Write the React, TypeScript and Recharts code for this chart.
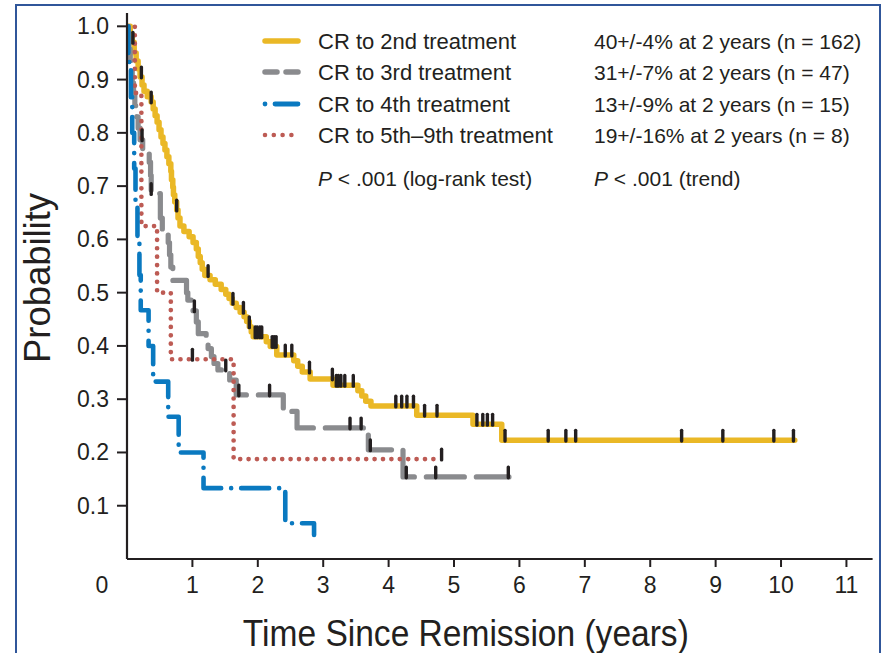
import React from 'react';
import { ComposedChart, Line, Scatter, XAxis, YAxis, Legend } from 'recharts';

const INK = '#231f20';
const FONT = '"Liberation Sans", Arial, Helvetica, sans-serif';

// Kaplan–Meier estimates: step times (years) and survival after each step
const cr2Times = [0, 0.05, 0.08, 0.11, 0.14, 0.17, 0.2, 0.23, 0.26, 0.31, 0.37, 0.4, 0.43, 0.46, 0.49, 0.52, 0.55, 0.58, 0.61, 0.64, 0.67, 0.68, 0.7, 0.71, 0.73, 0.76, 0.78, 0.81, 0.87, 0.95, 1.01, 1.06, 1.09, 1.12, 1.15, 1.19, 1.27, 1.35, 1.44, 1.51, 1.56, 1.61, 1.67, 1.73, 1.79, 1.83, 1.87, 1.9, 1.93, 2.13, 2.19, 2.29, 2.55, 2.61, 2.68, 2.8, 3.15, 3.53, 3.59, 3.65, 3.73, 4.43, 5.29, 5.73, 10.21];
const cr2Surv = [1.0, 0.985, 0.97, 0.95, 0.935, 0.92, 0.905, 0.89, 0.878, 0.868, 0.858, 0.845, 0.832, 0.82, 0.806, 0.792, 0.78, 0.768, 0.755, 0.742, 0.728, 0.712, 0.698, 0.684, 0.67, 0.655, 0.64, 0.625, 0.615, 0.605, 0.594, 0.582, 0.568, 0.556, 0.544, 0.532, 0.524, 0.516, 0.506, 0.497, 0.489, 0.48, 0.472, 0.463, 0.455, 0.446, 0.436, 0.426, 0.417, 0.408, 0.399, 0.383, 0.372, 0.362, 0.351, 0.338, 0.326, 0.316, 0.306, 0.296, 0.287, 0.27, 0.253, 0.223, 0.223];
const cr2Censored = [0.09, 0.22, 0.37, 0.76, 1.24, 1.62, 1.78, 1.87, 1.96, 1.99, 2.03, 2.06, 2.22, 2.25, 2.28, 2.42, 2.52, 2.79, 3.14, 3.2, 3.23, 3.27, 3.33, 3.46, 4.11, 4.2, 4.28, 4.38, 4.55, 4.74, 5.35, 5.44, 5.51, 5.59, 5.78, 6.44, 6.71, 6.86, 8.48, 9.11, 9.89, 10.19];

const cr3Times = [0, 0.02, 0.03, 0.05, 0.06, 0.08, 0.1, 0.12, 0.15, 0.17, 0.2, 0.24, 0.34, 0.36, 0.37, 0.51, 0.54, 0.63, 0.65, 0.67, 0.7, 0.91, 0.93, 1.01, 1.06, 1.09, 1.21, 1.24, 1.29, 1.33, 1.39, 1.57, 1.67, 2.39, 2.6, 3.69, 4.22, 5.84];
const cr3Surv = [1.0, 0.979, 0.957, 0.936, 0.915, 0.894, 0.872, 0.851, 0.83, 0.809, 0.787, 0.766, 0.745, 0.72, 0.686, 0.64, 0.617, 0.594, 0.571, 0.548, 0.523, 0.5, 0.486, 0.466, 0.445, 0.423, 0.41, 0.395, 0.38, 0.367, 0.355, 0.336, 0.308, 0.277, 0.246, 0.205, 0.154, 0.154];
const cr3Censored = [0.23, 0.37, 1.03, 1.51, 1.71, 2.18, 3.41, 3.58, 3.72, 4.27, 4.72, 5.83];

const cr4Times = [0, 0.02, 0.06, 0.08, 0.11, 0.13, 0.16, 0.19, 0.21, 0.33, 0.4, 0.63, 0.79, 1.17, 2.42, 2.86];
const cr4Surv = [1.0, 0.933, 0.867, 0.8, 0.733, 0.667, 0.6, 0.533, 0.467, 0.4, 0.333, 0.267, 0.2, 0.133, 0.067, 0.045];

const cr5Times = [0, 0.12, 0.22, 0.46, 0.67, 1.63, 4.81];
const cr5Surv = [1.0, 0.875, 0.625, 0.5, 0.375, 0.1875, 0.1875];
const cr5Censored = [1.0, 4.81];

const xTicks = [0, 1, 2, 3, 4, 5, 6, 7, 8, 9, 10, 11];
const yTicks = [0.1, 0.2, 0.3, 0.4, 0.5, 0.6, 0.7, 0.8, 0.9, 1.0];

const seriesNames = ['CR to 2nd treatment', 'CR to 3rd treatment', 'CR to 4th treatment', 'CR to 5th\u20139th treatment'];
const seriesStats = ['40+/-4% at 2 years (n = 162)', '31+/-7% at 2 years (n = 47)', '13+/-9% at 2 years (n = 15)', '19+/-16% at 2 years (n = 8)'];
const seriesColors = ['#eab826', '#8a8b8e', '#0a79c0', '#bd5b54'];

type Pt = { t: number; p: number };

const toSteps = (times: number[], surv: number[]): Pt[] => times.map((t, i) => ({ t, p: surv[i] }));
const survAt = (steps: Pt[], t: number) => {
  let p = steps[0].p;
  for (const s of steps) if (s.t <= t) p = s.p;
  return p;
};
const toCensor = (steps: Pt[], times: number[]): Pt[] => times.map((t) => ({ t, p: survAt(steps, t) }));

const cr2 = toSteps(cr2Times, cr2Surv);
const cr3 = toSteps(cr3Times, cr3Surv);
const cr4 = toSteps(cr4Times, cr4Surv);
const cr5 = toSteps(cr5Times, cr5Surv);

const cr2Marks = toCensor(cr2, cr2Censored);
const cr3Marks = toCensor(cr3, cr3Censored);
const cr5Marks = toCensor(cr5, cr5Censored);

const CensorMark = (props: any) => {
  const { cx, cy } = props;
  if (cx == null || cy == null) return null;
  return <rect x={cx - 1.7} y={cy - 11.5} width={3.4} height={14} rx={1.6} fill={INK} />;
};

const XTick = (props: any) => {
  const { x, y, payload } = props;
  const v = payload.value as number;
  const common = { fontSize: 23, fontFamily: FONT, fill: INK, textAnchor: 'middle' as const };
  if (v === 0) {
    return (
      <text x={x - 25} y={y + 34} {...common}>
        0
      </text>
    );
  }
  return (
    <g>
      <line x1={x} y1={y} x2={x} y2={y + 8} stroke={INK} strokeWidth={2} />
      <text x={x} y={y + 34} {...common}>
        {v}
      </text>
    </g>
  );
};

const YTick = (props: any) => {
  const { x, y, payload } = props;
  return (
    <g>
      <line x1={x - 10} y1={y} x2={x} y2={y} stroke={INK} strokeWidth={2} />
      <text x={x - 18} y={y + 8} textAnchor="end" fontSize={23} fontFamily={FONT} fill={INK}>
        {(payload.value as number).toFixed(1)}
      </text>
    </g>
  );
};

const XTitle = (props: any) => {
  const vb = props.viewBox ?? { x: 127, y: 559, width: 746 };
  return (
    <text
      x={vb.x + vb.width / 2 - 34}
      y={vb.y + 87}
      textAnchor="middle"
      fontSize={37}
      fontFamily={FONT}
      fill={INK}
      textLength={446}
      lengthAdjust="spacingAndGlyphs"
    >
      Time Since Remission (years)
    </text>
  );
};

const YTitle = (props: any) => {
  const vb = props.viewBox ?? { x: 67, y: 13, width: 60, height: 546 };
  const cx = vb.x - 17;
  const cy = vb.y + 265;
  return (
    <text
      x={cx}
      y={cy}
      transform={`rotate(-90, ${cx}, ${cy})`}
      textAnchor="middle"
      fontSize={36}
      fontFamily={FONT}
      fill={INK}
      textLength={170}
      lengthAdjust="spacingAndGlyphs"
    >
      Probability
    </text>
  );
};

const rowY = [41, 72, 104, 135];

const LegendPanel = () => (
  <svg width={885} height={200} style={{ display: 'block', overflow: 'visible' }}>
    <line x1={265} y1={rowY[0]} x2={298} y2={rowY[0]} stroke={seriesColors[0]} strokeWidth={5.5} strokeLinecap="round" />
    <line x1={265} y1={rowY[1]} x2={298} y2={rowY[1]} stroke={seriesColors[1]} strokeWidth={5.5} strokeLinecap="round" strokeDasharray="12 9" />
    <circle cx={265} cy={rowY[2]} r={2.4} fill={seriesColors[2]} />
    <line x1={275} y1={rowY[2]} x2={298} y2={rowY[2]} stroke={seriesColors[2]} strokeWidth={4.8} strokeLinecap="round" />
    <line x1={265} y1={rowY[3]} x2={292} y2={rowY[3]} stroke={seriesColors[3]} strokeWidth={4.6} strokeLinecap="round" strokeDasharray="0 8.8" />
    {seriesNames.map((name, i) => (
      <g key={name}>
        <text x={318} y={rowY[i] + 7.5} fontSize={22} fontFamily={FONT} fill={INK}>
          {name}
        </text>
        <text x={594} y={rowY[i] + 7.5} fontSize={21} fontFamily={FONT} fill={INK}>
          {seriesStats[i]}
        </text>
      </g>
    ))}
    <text x={318} y={186} fontSize={21} fontFamily={FONT} fill={INK}>
      <tspan fontStyle="italic">P</tspan>
      <tspan>{' < .001 (log-rank test)'}</tspan>
    </text>
    <text x={594} y={186} fontSize={21} fontFamily={FONT} fill={INK}>
      <tspan fontStyle="italic">P</tspan>
      <tspan>{' < .001 (trend)'}</tspan>
    </text>
  </svg>
);

export default function App() {
  return (
    <div style={{ position: 'absolute', left: 0, top: 0, width: 885, height: 653, overflow: 'hidden', background: '#fff' }}>
      <div
        style={{
          position: 'absolute',
          left: 15,
          top: 4,
          width: 862,
          height: 720,
          borderLeft: '2px solid #30569a',
          borderTop: '2px solid #30569a',
          borderRight: '2px solid #30569a',
        }}
      />
      <div style={{ position: 'absolute', left: 0, top: 0 }}>
        <ComposedChart width={885} height={653} margin={{ top: 13, right: 12.4, bottom: 34, left: 67 }}>
          <XAxis
            type="number"
            dataKey="t"
            domain={[0, 11.4]}
            ticks={xTicks}
            interval={0}
            allowDataOverflow
            tickSize={0}
            tickMargin={0}
            tickLine={false}
            axisLine={{ stroke: INK, strokeWidth: 2.2 }}
            tick={<XTick />}
            height={60}
            label={{ content: (p: any) => <XTitle {...p} /> }}
          />
          <YAxis
            type="number"
            dataKey="p"
            domain={[0, 1.025]}
            ticks={yTicks}
            interval={0}
            allowDataOverflow
            tickSize={0}
            tickMargin={0}
            tickLine={false}
            axisLine={{ stroke: INK, strokeWidth: 2.2 }}
            tick={<YTick />}
            width={60}
            label={{ content: (p: any) => <YTitle {...p} /> }}
          />
          <Legend
            layout="horizontal"
            verticalAlign="middle"
            align="center"
            content={() => <LegendPanel />}
            wrapperStyle={{ position: 'absolute', left: 0, top: 0, width: 885, height: 200, pointerEvents: 'none' }}
          />
          <Line
            data={cr2}
            dataKey="p"
            type="stepAfter"
            name={seriesNames[0]}
            stroke={seriesColors[0]}
            strokeWidth={5.5}
            strokeLinecap="round"
            strokeLinejoin="round"
            dot={false}
            activeDot={false}
            isAnimationActive={false}
          />
          <Line
            data={cr3}
            dataKey="p"
            type="stepAfter"
            name={seriesNames[1]}
            stroke={seriesColors[1]}
            strokeWidth={5.2}
            strokeDasharray="38 12"
            strokeLinecap="round"
            strokeLinejoin="round"
            dot={false}
            activeDot={false}
            isAnimationActive={false}
          />
          <Line
            data={cr5}
            dataKey="p"
            type="stepAfter"
            name={seriesNames[3]}
            stroke={seriesColors[3]}
            strokeWidth={4.7}
            strokeDasharray="0 8.4"
            strokeLinecap="round"
            dot={false}
            activeDot={false}
            isAnimationActive={false}
          />
          <Line
            data={cr4}
            dataKey="p"
            type="stepAfter"
            name={seriesNames[2]}
            stroke={seriesColors[2]}
            strokeWidth={4.6}
            strokeDasharray="28 10 0 10"
            strokeLinecap="round"
            strokeLinejoin="round"
            dot={false}
            activeDot={false}
            isAnimationActive={false}
          />
          <Scatter data={cr2Marks} dataKey="p" shape={CensorMark} isAnimationActive={false} />
          <Scatter data={cr3Marks} dataKey="p" shape={CensorMark} isAnimationActive={false} />
          <Scatter data={cr5Marks} dataKey="p" shape={CensorMark} isAnimationActive={false} />
        </ComposedChart>
      </div>
    </div>
  );
}
